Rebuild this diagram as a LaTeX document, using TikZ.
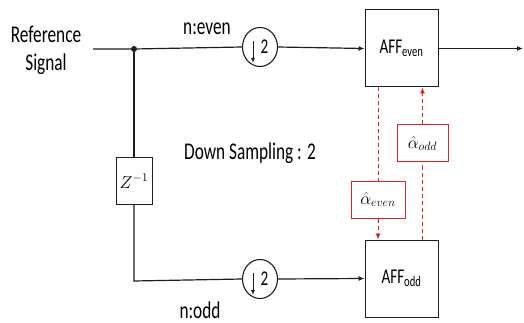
\documentclass[tikz,border=0pt]{standalone}
\usepackage{fontspec}
\setmainfont{Carlito}[FakeStretch=0.72]
\usetikzlibrary{arrows.meta,shapes.geometric,calc}
\definecolor{ln}{RGB}{30,30,30}
\definecolor{rd}{RGB}{225,35,35}
\tikzset{
  wire/.style={draw=ln, line width=1.2pt},
  arr/.style={wire, -{Latex[length=6pt,width=5pt]}},
  blk/.style={draw=ln, line width=1pt, inner sep=0pt},
  dsamp/.style={ellipse, draw=ln, line width=1.1pt, minimum width=35pt, minimum height=39pt, inner sep=0pt, font=\fontsize{21}{22}\selectfont},
  rbox/.style={draw=rd, line width=1pt, inner sep=0pt, minimum height=37pt, font=\fontsize{18}{20}\selectfont},
  rdash/.style={draw=rd, line width=0.9pt, dash pattern=on 4pt off 3pt},
  rarr/.style={rdash, -{Latex[length=6pt,width=5pt]}, rd},
  lbl/.style={font=\fontsize{24}{28}\selectfont, inner sep=0pt},
  afffont/.style={font=\fontsize{21}{22}\selectfont}
}
\begin{document}
\begin{tikzpicture}[x=1pt,y=-1pt]
\useasboundingbox (0,0) rectangle (524,323);
% labels
\node[lbl, align=center] (ref) at (46,50) {Reference\\Signal};
\node[lbl] (neven) at (207,29) {n:even};
\node[lbl] (nodd) at (200,310) {n:odd};
\node[lbl] (ds) at (250,153) {Down Sampling : 2};
% nodes
\coordinate (in) at (93,49);
\node[circle, fill=ln, inner sep=0pt, minimum size=6pt] (dot) at (134,49) {};
\node[blk, minimum width=36pt, minimum height=46pt, font=\fontsize{17}{20}\selectfont] (z) at (134,181) {$Z^{-1}$};
\coordinate (corner) at (134,281);
\node[dsamp] (d1) at (260,47) {\hspace*{9pt}2};
\node[dsamp] (d2) at (260,279) {\hspace*{9pt}2};
\node[blk, minimum width=73pt, minimum height=77pt, afffont] (affe) at (401.5,48.5) {AFF\textsubscript{even}};
\node[blk, minimum width=73pt, minimum height=77pt, afffont] (affo) at (401.5,278.5) {AFF\textsubscript{odd}};
\coordinate (out) at (523,48.5);
\node[rbox, minimum width=54pt] (ae) at (378,199.5) {$\hat{\alpha}_{even}$};
\node[rbox, minimum width=51pt] (ao) at (422.5,143.5) {$\hat{\alpha}_{odd}$};
% arrows inside the down-sampling circles
\draw[draw=ln, line width=1pt, -{Latex[length=5pt,width=4pt]}] ($(d1.center)+(-7,-6)$) -- ($(d1.center)+(-7,16)$);
\draw[draw=ln, line width=1pt, -{Latex[length=5pt,width=4pt]}] ($(d2.center)+(-7,-6)$) -- ($(d2.center)+(-7,16)$);
% wires
\draw[wire] (in) -- (dot) -- (d1.west);
\draw[wire] (dot) -- (z.north);
\draw[wire] (z.south) -- (corner) -- (d2.west);
\draw[arr] (d1.east) -- (affe.west);
\draw[arr] (d2.east) -- (affo.west);
\draw[arr] (affe.east) -- (out);
% red dashed
\draw[rdash] (ae |- affe.south) -- (ae.north);
\draw[rarr] (ae.south) -- (ae |- affo.north);
\draw[rdash] (ao |- affo.north) -- (ao.south);
\draw[rarr] (ao.north) -- (ao |- affe.south);
\end{tikzpicture}
\end{document}
